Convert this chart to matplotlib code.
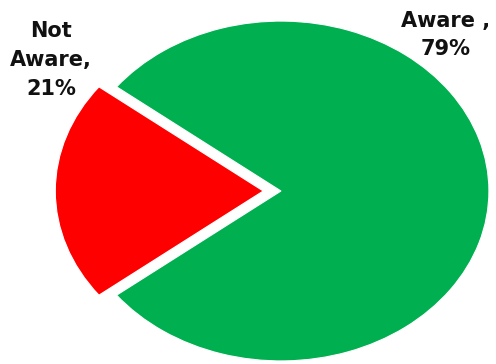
import matplotlib
matplotlib.use('Agg')
import matplotlib.pyplot as plt

# Data
labels = ['Aware ,\n79%', 'Not\nAware,\n21%']
shares = [79, 21]
colors = ['#00B050', '#FF0000']
explode = [0, 0.085]

fig = plt.figure(figsize=(4.96, 3.64), dpi=100)
ax = fig.add_axes([0, 0, 1, 1])

# Green slice wraps around; red slice is centred on the left side
ax.pie(shares, colors=colors, explode=explode, startangle=217.8,
       counterclock=True, radius=1.0,
       wedgeprops={'edgecolor': 'white', 'linewidth': 0.8})

# Stretch the pie into an ellipse like the original
ax.set_aspect('auto')
ax.set_xlim(-1.351, 1.034)
ax.set_ylim(-1.018, 1.124)
ax.axis('off')

# Labels
fig.text(446 / 496, 1 - 35 / 364, labels[0], ha='center', va='center',
         fontsize=15, fontweight='bold', linespacing=1.55, color='#111111')
fig.text(51 / 496, 1 - 60 / 364, labels[1], ha='center', va='center',
         fontsize=15, fontweight='bold', linespacing=1.55, color='#111111')

fig.savefig('out.png', dpi=100, facecolor='white')
